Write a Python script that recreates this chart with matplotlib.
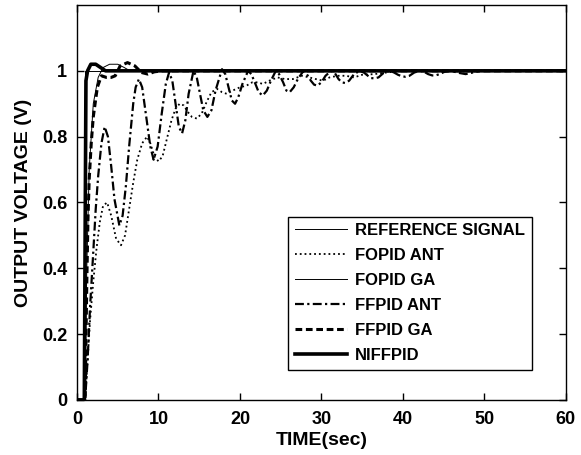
import matplotlib
matplotlib.use('Agg')
from matplotlib import pyplot as plt

plt.rcParams['font.family'] = ['Liberation Sans', 'DejaVu Sans']
plt.rcParams['font.weight'] = 'bold'

# reference step
t_ref = [0, 1.0, 1.0, 60]
y_ref = [0, 0, 1.0, 1.0]

# FOPID ANT (dotted)
t_fopid_ant = [0, 1.0, 1.3, 1.6, 2.0, 2.4, 2.8, 3.2, 3.7, 4.2, 4.8, 5.4, 5.9, 6.4, 6.9, 7.4,
               8.0, 8.6, 9.0, 9.5, 10.0, 10.5, 11.0, 11.6, 12.1, 12.6, 13.1, 13.6, 14.1, 14.7,
               15.3, 15.9, 16.5, 17.2, 17.8, 18.4, 19.1, 20.0, 20.8, 21.5, 22.2, 22.8, 23.6,
               24.6, 25.5, 26.5, 27.6, 28.5, 29.3, 30.2, 31.0, 32.0, 33.0, 34.0, 35.0, 36.5,
               38.0, 40.0, 60]
y_fopid_ant = [0, 0, 0.12, 0.24, 0.36, 0.46, 0.54, 0.59, 0.60, 0.56, 0.49, 0.47, 0.50, 0.58,
               0.66, 0.73, 0.78, 0.80, 0.78, 0.74, 0.725, 0.74, 0.79, 0.85, 0.885, 0.90, 0.895,
               0.875, 0.86, 0.855, 0.87, 0.905, 0.935, 0.945, 0.935, 0.93, 0.94, 0.95, 0.955,
               0.965, 0.965, 0.96, 0.97, 0.98, 0.975, 0.975, 0.985, 0.98, 0.975, 0.97, 0.98,
               0.985, 0.985, 0.98, 0.988, 0.99, 0.995, 1.0, 1.0]

# FOPID GA (thin solid)
t_fopid_ga = [0, 1.0, 1.2, 1.5, 2.0, 2.6, 3.2, 4.0, 5.0, 5.8, 6.5, 60]
y_fopid_ga = [0, 0, 0.40, 0.70, 0.90, 0.98, 1.01, 1.02, 1.02, 1.01, 1.0, 1.0]

# FFPID ANT (dash-dot)
t_ffpid_ant = [0, 1.0, 1.3, 1.6, 2.0, 2.3, 2.6, 3.0, 3.4, 3.8, 4.2, 4.6, 5.2, 5.6, 6.0, 6.4,
               6.9, 7.2, 7.6, 8.0, 8.5, 9.0, 9.4, 9.9, 10.4, 10.9, 11.3, 11.7, 12.1, 12.5, 12.9,
               13.3, 13.7, 14.3, 14.7, 15.1, 15.5, 16.0, 16.5, 17.0, 17.8, 18.2, 18.6, 19.0,
               19.4, 19.8, 20.3, 21.0, 21.4, 21.9, 22.3, 22.8, 23.3, 23.8, 24.4, 24.8, 25.3,
               25.7, 26.1, 26.6, 27.1, 27.8, 28.2, 28.7, 29.1, 29.5, 30.0, 30.5, 31.2, 31.6,
               32.1, 32.5, 32.9, 33.4, 34.0, 34.7, 35.2, 35.7, 36.1, 36.5, 37.0, 37.6, 38.4,
               38.9, 39.4, 39.9, 40.3, 40.8, 41.4, 42.1, 42.6, 43.1, 43.6, 44.0, 44.5, 45.1,
               45.9, 46.8, 47.7, 48.6, 49.5, 60]
y_ffpid_ant = [0, 0, 0.12, 0.28, 0.45, 0.58, 0.68, 0.78, 0.83, 0.80, 0.71, 0.61, 0.53, 0.56,
               0.65, 0.77, 0.90, 0.95, 0.975, 0.95, 0.86, 0.77, 0.73, 0.77, 0.87, 0.96, 0.995,
               0.97, 0.90, 0.83, 0.81, 0.85, 0.93, 1.0, 0.98, 0.93, 0.88, 0.86, 0.88, 0.94,
               1.005, 0.99, 0.95, 0.91, 0.90, 0.92, 0.96, 1.0, 0.99, 0.96, 0.935, 0.925, 0.94,
               0.97, 1.0, 0.99, 0.965, 0.94, 0.935, 0.95, 0.975, 1.0, 0.99, 0.97, 0.958, 0.955,
               0.965, 0.985, 1.0, 0.995, 0.975, 0.965, 0.963, 0.97, 0.99, 1.0, 0.995, 0.985,
               0.978, 0.977, 0.98, 0.993, 1.0, 0.995, 0.988, 0.983, 0.982, 0.985, 0.995, 1.0,
               0.997, 0.99, 0.986, 0.986, 0.99, 0.997, 1.0, 0.994, 0.99, 0.995, 1.0, 1.0]

# FFPID GA (thick dashed)
t_ffpid_ga = [0, 1.0, 1.2, 1.35, 1.5, 1.75, 2.0, 2.5, 3.0, 3.6, 4.2, 4.7, 5.3, 6.2, 7.1, 7.9,
              8.7, 9.5, 10.5, 60]
y_ffpid_ga = [0, 0, 0.35, 0.55, 0.67, 0.78, 0.86, 0.95, 0.985, 0.98, 0.98, 0.985, 1.015,
              1.025, 1.015, 0.995, 0.99, 0.997, 1.0, 1.0]

# NIFFPID (thick solid)
t_niffpid = [0, 0.9, 1.0, 1.1, 1.3, 1.7, 2.3, 2.9, 3.5, 60]
y_niffpid = [0, 0, 0.5, 0.97, 1.0, 1.02, 1.02, 1.01, 1.0, 1.0]

fig = plt.figure(figsize=(5.81, 4.55), dpi=100)
ax = fig.add_axes([0.1325, 0.121, 0.8415, 0.868])

ax.plot(t_ref, y_ref, c='black', lw=0.7, label='REFERENCE SIGNAL')
ax.plot(t_fopid_ant, y_fopid_ant, c='black', lw=1.3, ls=':', label='FOPID ANT')
ax.plot(t_fopid_ga, y_fopid_ga, c='black', lw=0.7, ls='-', label='FOPID GA')
ax.plot(t_ffpid_ant, y_ffpid_ant, c='black', lw=1.6, ls=(0, (4, 1.5, 1, 1.5)), label='FFPID ANT')
ax.plot(t_ffpid_ga, y_ffpid_ga, c='black', lw=2.2, ls=(0, (2.2, 1.2)), label='FFPID GA')
ax.plot(t_niffpid, y_niffpid, c='black', lw=2.6, label='NIFFPID')

ax.set_xlim(0, 60)
ax.set_ylim(0, 1.2)
ax.set_xticks([0, 10, 20, 30, 40, 50, 60])
ax.set_yticks([0, 0.2, 0.4, 0.6, 0.8, 1])
ax.set_yticklabels(['0', '0.2', '0.4', '0.6', '0.8', '1'])
ax.tick_params(direction='in', top=True, right=True, length=5, labelsize=13, width=1)
ax.tick_params(axis='x', pad=8)
ax.tick_params(axis='y', pad=7)
for s in ax.spines.values():
    s.set_linewidth(1)
ax.set_xlabel('TIME(sec)', fontsize=14, fontweight='bold', labelpad=3)
ax.set_ylabel('OUTPUT VOLTAGE (V)', fontsize=14, fontweight='bold', labelpad=7)

leg = ax.legend(loc='lower right', bbox_to_anchor=(0.930, 0.076), borderaxespad=0,
                fontsize=12, fancybox=False, edgecolor='black', framealpha=1,
                handlelength=3.1, labelspacing=0.6, borderpad=0.4, handletextpad=0.5)
leg.get_frame().set_linewidth(1)

plt.savefig('out.png', dpi=100)
